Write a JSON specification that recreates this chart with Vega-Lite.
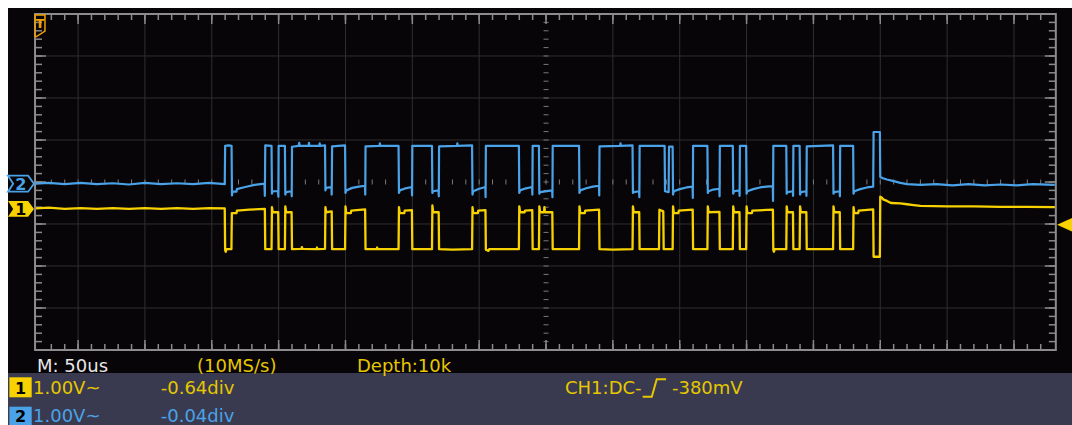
{
 "$schema": "https://vega.github.io/schema/vega-lite/v6.json",
 "width": 1072, "height": 425, "padding": 0, "autosize": {"type": "none"},
 "background": "#ffffff",
 "config": {"view": {"stroke": null}, "text": {"font": "DejaVu Sans"}},
 "datasets": {
  "ch2": [
   {"t":-381.5,"v":-0.04},{"t":-372,"v":-0.02},{"t":-360,"v":-0.05},{"t":-348,"v":-0.02},{"t":-336,"v":-0.05},{"t":-324,"v":-0.03},{"t":-312,"v":-0.06},{"t":-300,"v":-0.02},{"t":-288,"v":-0.05},{"t":-276,"v":-0.03},{"t":-264,"v":-0.05},{"t":-252,"v":-0.02},{"t":-240.3,"v":-0.05},
   {"t":-240,"v":0.86},{"t":-237.5,"v":0.87},{"t":-235.2,"v":0.86},{"t":-234.9,"v":-0.32},{"t":-234.5,"v":-0.23},{"t":-231.5,"v":-0.23},{"t":-231.2,"v":-0.17},{"t":-225,"v":-0.12},{"t":-218,"v":-0.07},{"t":-210.6,"v":-0.04},
   {"t":-210.3,"v":-0.33},{"t":-210,"v":0.87},{"t":-205.3,"v":0.86},{"t":-205,"v":-0.28},{"t":-204.5,"v":-0.22},{"t":-200.4,"v":-0.22},
   {"t":-200.2,"v":-0.35},{"t":-200,"v":0.86},{"t":-195.3,"v":0.86},{"t":-195,"v":-0.3},{"t":-194.5,"v":-0.24},{"t":-190.4,"v":-0.22},
   {"t":-190.2,"v":-0.34},{"t":-190,"v":0.84},{"t":-185,"v":0.86},{"t":-184.6,"v":0.93},{"t":-184.2,"v":0.86},{"t":-177.6,"v":0.86},{"t":-177.3,"v":0.93},{"t":-177,"v":0.86},{"t":-169.6,"v":0.86},{"t":-169.3,"v":0.92},{"t":-169,"v":0.86},{"t":-165.3,"v":0.87},{"t":-165,"v":-0.2},{"t":-164.5,"v":-0.14},{"t":-160.5,"v":-0.12},
   {"t":-160.3,"v":-0.3},{"t":-160,"v":0.85},{"t":-150.3,"v":0.87},{"t":-150,"v":-0.26},{"t":-149.4,"v":-0.2},{"t":-145,"v":-0.14},{"t":-140,"v":-0.11},{"t":-135.4,"v":-0.09},
   {"t":-135.2,"v":-0.3},{"t":-135,"v":0.85},{"t":-124.6,"v":0.86},{"t":-124.3,"v":0.92},{"t":-124,"v":0.86},{"t":-110.3,"v":0.86},{"t":-110,"v":-0.26},{"t":-109.4,"v":-0.2},{"t":-105,"v":-0.15},{"t":-100.4,"v":-0.12},
   {"t":-100.2,"v":-0.32},{"t":-100,"v":0.86},{"t":-85.3,"v":0.86},{"t":-85,"v":-0.26},{"t":-84.4,"v":-0.22},{"t":-80.4,"v":-0.2},
   {"t":-80.2,"v":-0.34},{"t":-80,"v":0.85},{"t":-66.6,"v":0.86},{"t":-66.3,"v":0.92},{"t":-66,"v":0.86},{"t":-55.3,"v":0.87},{"t":-55,"v":-0.3},{"t":-54.4,"v":-0.22},{"t":-50,"v":-0.16},{"t":-45.4,"v":-0.12},
   {"t":-45.2,"v":-0.36},{"t":-45,"v":0.86},{"t":-20.3,"v":0.86},{"t":-20,"v":-0.26},{"t":-19.4,"v":-0.2},{"t":-15,"v":-0.15},{"t":-10.4,"v":-0.12},
   {"t":-10.2,"v":-0.3},{"t":-10,"v":0.86},{"t":-5.3,"v":0.86},{"t":-5,"v":-0.28},{"t":-4.4,"v":-0.24},{"t":4.6,"v":-0.2},
   {"t":4.8,"v":-0.36},{"t":5,"v":0.86},{"t":24.7,"v":0.86},{"t":25,"v":-0.26},{"t":25.6,"v":-0.2},{"t":30,"v":-0.15},{"t":35,"v":-0.11},{"t":39.6,"v":-0.09},
   {"t":39.8,"v":-0.32},{"t":40,"v":0.85},{"t":55.4,"v":0.86},{"t":55.7,"v":0.92},{"t":56,"v":0.86},{"t":64.7,"v":0.87},{"t":65,"v":-0.26},{"t":65.6,"v":-0.24},{"t":69.6,"v":-0.22},
   {"t":69.8,"v":-0.36},{"t":70,"v":0.86},{"t":88.7,"v":0.86},{"t":89,"v":-0.22},{"t":91.7,"v":-0.24},{"t":92,"v":0.84},{"t":94.7,"v":0.84},{"t":95,"v":-0.3},{"t":95.6,"v":-0.22},{"t":100,"v":-0.17},{"t":105,"v":-0.13},{"t":109.6,"v":-0.11},
   {"t":109.8,"v":-0.38},{"t":110,"v":0.86},{"t":120.7,"v":0.86},{"t":121,"v":-0.26},{"t":121.6,"v":-0.22},{"t":125,"v":-0.18},{"t":129.6,"v":-0.16},
   {"t":129.8,"v":-0.34},{"t":130,"v":0.86},{"t":139.7,"v":0.86},{"t":140,"v":-0.28},{"t":140.6,"v":-0.22},{"t":144.6,"v":-0.2},
   {"t":144.8,"v":-0.33},{"t":145,"v":0.86},{"t":149.7,"v":0.86},{"t":150,"v":-0.28},{"t":150.6,"v":-0.22},{"t":155,"v":-0.17},{"t":160,"v":-0.13},{"t":165,"v":-0.11},{"t":169.6,"v":-0.1},
   {"t":169.8,"v":-0.45},{"t":170,"v":0.86},{"t":179.7,"v":0.86},{"t":180,"v":-0.28},{"t":180.6,"v":-0.24},{"t":184.6,"v":-0.22},
   {"t":184.8,"v":-0.33},{"t":185,"v":0.86},{"t":189.7,"v":0.86},{"t":190,"v":-0.3},{"t":190.6,"v":-0.24},{"t":194.6,"v":-0.22},
   {"t":194.8,"v":-0.33},{"t":195,"v":0.85},{"t":214.7,"v":0.87},{"t":215,"v":-0.28},{"t":215.6,"v":-0.24},{"t":219.6,"v":-0.22},
   {"t":219.8,"v":-0.34},{"t":220,"v":0.86},{"t":229.7,"v":0.86},{"t":230,"v":-0.28},{"t":230.6,"v":-0.22},{"t":235,"v":-0.17},{"t":240,"v":-0.13},{"t":244.7,"v":-0.11},
   {"t":245,"v":1.19},{"t":249.7,"v":1.19},{"t":250,"v":0.12},{"t":252,"v":0.09},{"t":255,"v":0.06},{"t":260,"v":0.02},{"t":265,"v":-0.02},{"t":270,"v":-0.05},{"t":280,"v":-0.07},{"t":292,"v":-0.05},{"t":304,"v":-0.08},{"t":316,"v":-0.05},{"t":328,"v":-0.08},{"t":340,"v":-0.06},{"t":352,"v":-0.08},{"t":364,"v":-0.05},{"t":380.5,"v":-0.07}
  ],
  "ch1": [
   {"t":-381.5,"v":-0.63},{"t":-372,"v":-0.61},{"t":-360,"v":-0.64},{"t":-348,"v":-0.62},{"t":-336,"v":-0.64},{"t":-324,"v":-0.62},{"t":-312,"v":-0.64},{"t":-300,"v":-0.62},{"t":-288,"v":-0.64},{"t":-276,"v":-0.62},{"t":-264,"v":-0.64},{"t":-252,"v":-0.62},{"t":-240.3,"v":-0.63},
   {"t":-240,"v":-1.62},{"t":-239.5,"v":-1.66},{"t":-239,"v":-1.6},{"t":-235.3,"v":-1.6},{"t":-235,"v":-0.74},{"t":-231.5,"v":-0.74},{"t":-231.2,"v":-0.68},{"t":-222,"v":-0.66},{"t":-210.3,"v":-0.64},
   {"t":-210,"v":-1.6},{"t":-205.3,"v":-1.6},{"t":-205,"v":-0.6},{"t":-204.4,"v":-0.72},{"t":-200.3,"v":-0.72},
   {"t":-200,"v":-1.6},{"t":-195.3,"v":-1.6},{"t":-195,"v":-0.58},{"t":-194.4,"v":-0.72},{"t":-190.3,"v":-0.72},
   {"t":-190,"v":-1.6},{"t":-183,"v":-1.59},{"t":-182.6,"v":-1.55},{"t":-182.2,"v":-1.59},{"t":-171.6,"v":-1.6},{"t":-171.3,"v":-1.56},{"t":-171,"v":-1.6},{"t":-165.3,"v":-1.59},{"t":-165,"v":-0.6},{"t":-164.4,"v":-0.72},{"t":-160.3,"v":-0.7},
   {"t":-160,"v":-1.6},{"t":-150.3,"v":-1.6},{"t":-150,"v":-0.58},{"t":-149.4,"v":-0.74},{"t":-146,"v":-0.74},{"t":-145.7,"v":-0.68},{"t":-135.3,"v":-0.65},
   {"t":-135,"v":-1.6},{"t":-126.6,"v":-1.6},{"t":-126.3,"v":-1.56},{"t":-126,"v":-1.6},{"t":-110.3,"v":-1.6},{"t":-110,"v":-0.6},{"t":-109.4,"v":-0.74},{"t":-106,"v":-0.74},{"t":-105.7,"v":-0.68},{"t":-100.3,"v":-0.67},
   {"t":-100,"v":-1.6},{"t":-85.3,"v":-1.6},{"t":-85,"v":-0.56},{"t":-84.4,"v":-0.72},{"t":-80.3,"v":-0.72},
   {"t":-80,"v":-1.6},{"t":-70,"v":-1.61},{"t":-55.3,"v":-1.6},{"t":-55,"v":-0.6},{"t":-54.4,"v":-0.74},{"t":-51,"v":-0.74},{"t":-50.7,"v":-0.68},{"t":-45.3,"v":-0.67},
   {"t":-45,"v":-1.61},{"t":-43,"v":-1.64},{"t":-42.5,"v":-1.6},{"t":-20.3,"v":-1.6},{"t":-20,"v":-0.58},{"t":-19.4,"v":-0.72},{"t":-16,"v":-0.72},{"t":-15.7,"v":-0.68},{"t":-10.3,"v":-0.67},
   {"t":-10,"v":-1.6},{"t":-5.3,"v":-1.6},{"t":-5,"v":-0.58},{"t":-4.4,"v":-0.72},{"t":-1.5,"v":-0.72},{"t":-1.2,"v":-0.6},{"t":-0.8,"v":-0.72},{"t":4.7,"v":-0.72},
   {"t":5,"v":-1.6},{"t":24.7,"v":-1.6},{"t":25,"v":-0.58},{"t":25.6,"v":-0.74},{"t":29,"v":-0.74},{"t":29.3,"v":-0.68},{"t":39.7,"v":-0.66},
   {"t":40,"v":-1.6},{"t":50,"v":-1.61},{"t":64.7,"v":-1.6},{"t":65,"v":-0.58},{"t":65.6,"v":-0.72},{"t":69.7,"v":-0.72},
   {"t":70,"v":-1.6},{"t":84.5,"v":-1.6},{"t":84.8,"v":-0.66},{"t":87.7,"v":-0.7},{"t":88,"v":-1.6},{"t":94.7,"v":-1.6},{"t":95,"v":-0.58},{"t":95.6,"v":-0.74},{"t":99,"v":-0.74},{"t":99.3,"v":-0.68},{"t":109.7,"v":-0.66},
   {"t":110,"v":-1.6},{"t":120.7,"v":-1.6},{"t":121,"v":-0.58},{"t":121.6,"v":-0.72},{"t":129.7,"v":-0.71},
   {"t":130,"v":-1.6},{"t":139.7,"v":-1.6},{"t":140,"v":-0.58},{"t":140.6,"v":-0.72},{"t":144.7,"v":-0.72},
   {"t":145,"v":-1.6},{"t":149.7,"v":-1.6},{"t":150,"v":-0.58},{"t":150.6,"v":-0.74},{"t":154,"v":-0.74},{"t":154.3,"v":-0.68},{"t":169.7,"v":-0.66},
   {"t":170,"v":-1.62},{"t":170.5,"v":-1.66},{"t":171,"v":-1.6},{"t":179.7,"v":-1.6},{"t":180,"v":-0.58},{"t":180.6,"v":-0.72},{"t":184.7,"v":-0.72},
   {"t":185,"v":-1.6},{"t":189.7,"v":-1.6},{"t":190,"v":-0.58},{"t":190.6,"v":-0.72},{"t":194.7,"v":-0.72},
   {"t":195,"v":-1.6},{"t":214.7,"v":-1.6},{"t":215,"v":-0.58},{"t":215.6,"v":-0.72},{"t":219.7,"v":-0.72},
   {"t":220,"v":-1.6},{"t":229.7,"v":-1.6},{"t":230,"v":-0.6},{"t":230.6,"v":-0.74},{"t":233.5,"v":-0.74},{"t":233.8,"v":-0.68},{"t":244.7,"v":-0.65},
   {"t":245,"v":-1.78},{"t":249.7,"v":-1.78},{"t":250,"v":-0.35},{"t":251,"v":-0.37},{"t":252.5,"v":-0.42},{"t":255,"v":-0.45},{"t":258,"v":-0.5},{"t":265,"v":-0.51},{"t":270,"v":-0.53},{"t":275,"v":-0.55},{"t":280,"v":-0.57},{"t":300,"v":-0.58},{"t":320,"v":-0.58},{"t":340,"v":-0.59},{"t":360,"v":-0.59},{"t":380.5,"v":-0.6}
  ],
  "tminor": [{"t":-370},{"t":-360},{"t":-350},{"t":-340},{"t":-330},{"t":-320},{"t":-310},{"t":-300},{"t":-290},{"t":-280},{"t":-270},{"t":-260},{"t":-250},{"t":-240},{"t":-230},{"t":-220},{"t":-210},{"t":-200},{"t":-190},{"t":-180},{"t":-170},{"t":-160},{"t":-150},{"t":-140},{"t":-130},{"t":-120},{"t":-110},{"t":-100},{"t":-90},{"t":-80},{"t":-70},{"t":-60},{"t":-50},{"t":-40},{"t":-30},{"t":-20},{"t":-10},{"t":0},{"t":10},{"t":20},{"t":30},{"t":40},{"t":50},{"t":60},{"t":70},{"t":80},{"t":90},{"t":100},{"t":110},{"t":120},{"t":130},{"t":140},{"t":150},{"t":160},{"t":170},{"t":180},{"t":190},{"t":200},{"t":210},{"t":220},{"t":230},{"t":240},{"t":250},{"t":260},{"t":270},{"t":280},{"t":290},{"t":300},{"t":310},{"t":320},{"t":330},{"t":340},{"t":350},{"t":360},{"t":370}],
  "tmajor": [{"t":-350},{"t":-300},{"t":-250},{"t":-200},{"t":-150},{"t":-100},{"t":-50},{"t":0},{"t":50},{"t":100},{"t":150},{"t":200},{"t":250},{"t":300},{"t":350}],
  "vminor": [{"v":-3.8},{"v":-3.6},{"v":-3.4},{"v":-3.2},{"v":-3},{"v":-2.8},{"v":-2.6},{"v":-2.4},{"v":-2.2},{"v":-2},{"v":-1.8},{"v":-1.6},{"v":-1.4},{"v":-1.2},{"v":-1},{"v":-0.8},{"v":-0.6},{"v":-0.4},{"v":-0.2},{"v":0},{"v":0.2},{"v":0.4},{"v":0.6},{"v":0.8},{"v":1},{"v":1.2},{"v":1.4},{"v":1.6},{"v":1.8},{"v":2},{"v":2.2},{"v":2.4},{"v":2.6},{"v":2.8},{"v":3},{"v":3.2},{"v":3.4},{"v":3.6},{"v":3.8}],
  "vmajor": [{"v":-3},{"v":-2},{"v":-1},{"v":0},{"v":1},{"v":2},{"v":3}],
  "edge": [{"t":72.3,"v":-5.112},{"t":79.1,"v":-5.112},{"t":82.8,"v":-4.698},{"t":89.8,"v":-4.698}]
 },
 "layer": [
  {"data":{"values":[{}]},"mark":{"type":"rect","color":"#080508"},"encoding":{"x":{"datum":-402.4,"type":"quantitative","scale":{"domain":[-408.4,393.4],"nice":false,"zero":false},"axis":null},"x2":{"datum":393.4},"y":{"datum":4.143,"type":"quantitative","scale":{"domain":[-5.7857,4.3333],"nice":false,"zero":false},"axis":null},"y2":{"datum":-4.548}}},
  {"data":{"values":[{}]},"mark":{"type":"rect","color":"#393a4f"},"encoding":{"x":{"datum":-402.4,"type":"quantitative","scale":{"domain":[-408.4,393.4],"nice":false,"zero":false},"axis":null},"x2":{"datum":393.4},"y":{"datum":-4.548,"type":"quantitative","scale":{"domain":[-5.7857,4.3333],"nice":false,"zero":false},"axis":null},"y2":{"datum":-5.7857}}},
  {"data":{"name":"tmajor"},"transform":[{"filter":"datum.t != 0"}],"mark":{"type":"rule","color":"#2f2f2f","strokeWidth":1},"encoding":{"x":{"field":"t","type":"quantitative","scale":{"domain":[-408.4,393.4],"nice":false,"zero":false},"axis":null},"y":{"datum":-4,"type":"quantitative","scale":{"domain":[-5.7857,4.3333],"nice":false,"zero":false},"axis":null},"y2":{"datum":4}}},
  {"data":{"name":"vmajor"},"transform":[{"filter":"datum.v != 0"}],"mark":{"type":"rule","color":"#2f2f2f","strokeWidth":1},"encoding":{"y":{"field":"v","type":"quantitative","scale":{"domain":[-5.7857,4.3333],"nice":false,"zero":false},"axis":null},"x":{"datum":-382.2,"type":"quantitative","scale":{"domain":[-408.4,393.4],"nice":false,"zero":false},"axis":null},"x2":{"datum":381.3}}},
  {"data":{"name":"tminor"},"mark":{"type":"rule","color":"#7a7a7a","strokeWidth":1,"yOffset":-2.5,"y2Offset":2.5},"encoding":{"x":{"field":"t","type":"quantitative","scale":{"domain":[-408.4,393.4],"nice":false,"zero":false},"axis":null},"y":{"datum":0,"type":"quantitative","scale":{"domain":[-5.7857,4.3333],"nice":false,"zero":false},"axis":null},"y2":{"datum":0}}},
  {"data":{"name":"vminor"},"mark":{"type":"rule","color":"#7a7a7a","strokeWidth":1,"xOffset":-2.5,"x2Offset":2.5},"encoding":{"y":{"field":"v","type":"quantitative","scale":{"domain":[-5.7857,4.3333],"nice":false,"zero":false},"axis":null},"x":{"datum":0,"type":"quantitative","scale":{"domain":[-408.4,393.4],"nice":false,"zero":false},"axis":null},"x2":{"datum":0}}},
  {"data":{"name":"tminor"},"mark":{"type":"rule","color":"#8a8a8a","strokeWidth":1.5,"y2Offset":6},"encoding":{"x":{"field":"t","type":"quantitative","scale":{"domain":[-408.4,393.4],"nice":false,"zero":false},"axis":null},"y":{"datum":4,"type":"quantitative","scale":{"domain":[-5.7857,4.3333],"nice":false,"zero":false},"axis":null},"y2":{"datum":4}}},
  {"data":{"name":"tmajor"},"mark":{"type":"rule","color":"#8a8a8a","strokeWidth":1.5,"y2Offset":10},"encoding":{"x":{"field":"t","type":"quantitative","scale":{"domain":[-408.4,393.4],"nice":false,"zero":false},"axis":null},"y":{"datum":4,"type":"quantitative","scale":{"domain":[-5.7857,4.3333],"nice":false,"zero":false},"axis":null},"y2":{"datum":4}}},
  {"data":{"name":"tminor"},"mark":{"type":"rule","color":"#8a8a8a","strokeWidth":1.5,"y2Offset":-6},"encoding":{"x":{"field":"t","type":"quantitative","scale":{"domain":[-408.4,393.4],"nice":false,"zero":false},"axis":null},"y":{"datum":-4,"type":"quantitative","scale":{"domain":[-5.7857,4.3333],"nice":false,"zero":false},"axis":null},"y2":{"datum":-4}}},
  {"data":{"name":"tmajor"},"mark":{"type":"rule","color":"#8a8a8a","strokeWidth":1.5,"y2Offset":-10},"encoding":{"x":{"field":"t","type":"quantitative","scale":{"domain":[-408.4,393.4],"nice":false,"zero":false},"axis":null},"y":{"datum":-4,"type":"quantitative","scale":{"domain":[-5.7857,4.3333],"nice":false,"zero":false},"axis":null},"y2":{"datum":-4}}},
  {"data":{"name":"vminor"},"mark":{"type":"rule","color":"#8a8a8a","strokeWidth":1.5,"x2Offset":7},"encoding":{"y":{"field":"v","type":"quantitative","scale":{"domain":[-5.7857,4.3333],"nice":false,"zero":false},"axis":null},"x":{"datum":-382.2,"type":"quantitative","scale":{"domain":[-408.4,393.4],"nice":false,"zero":false},"axis":null},"x2":{"datum":-382.2}}},
  {"data":{"name":"vmajor"},"mark":{"type":"rule","color":"#8a8a8a","strokeWidth":1.5,"x2Offset":11},"encoding":{"y":{"field":"v","type":"quantitative","scale":{"domain":[-5.7857,4.3333],"nice":false,"zero":false},"axis":null},"x":{"datum":-382.2,"type":"quantitative","scale":{"domain":[-408.4,393.4],"nice":false,"zero":false},"axis":null},"x2":{"datum":-382.2}}},
  {"data":{"name":"vminor"},"mark":{"type":"rule","color":"#8a8a8a","strokeWidth":1.5,"x2Offset":-7},"encoding":{"y":{"field":"v","type":"quantitative","scale":{"domain":[-5.7857,4.3333],"nice":false,"zero":false},"axis":null},"x":{"datum":381.3,"type":"quantitative","scale":{"domain":[-408.4,393.4],"nice":false,"zero":false},"axis":null},"x2":{"datum":381.3}}},
  {"data":{"name":"vmajor"},"mark":{"type":"rule","color":"#8a8a8a","strokeWidth":1.5,"x2Offset":-11},"encoding":{"y":{"field":"v","type":"quantitative","scale":{"domain":[-5.7857,4.3333],"nice":false,"zero":false},"axis":null},"x":{"datum":381.3,"type":"quantitative","scale":{"domain":[-408.4,393.4],"nice":false,"zero":false},"axis":null},"x2":{"datum":381.3}}},
  {"data":{"values":[{}]},"mark":{"type":"rect","fill":"transparent","stroke":"#8c8c8c","strokeWidth":2},"encoding":{"x":{"datum":-382.2,"type":"quantitative","scale":{"domain":[-408.4,393.4],"nice":false,"zero":false},"axis":null},"x2":{"datum":381.3},"y":{"datum":-4,"type":"quantitative","scale":{"domain":[-5.7857,4.3333],"nice":false,"zero":false},"axis":null},"y2":{"datum":4}}},
  {"data":{"name":"ch2"},"mark":{"type":"line","color":"#4aa3e8","strokeWidth":2.2,"strokeJoin":"round"},"encoding":{"x":{"field":"t","type":"quantitative","scale":{"domain":[-408.4,393.4],"nice":false,"zero":false},"axis":null},"y":{"field":"v","type":"quantitative","scale":{"domain":[-5.7857,4.3333],"nice":false,"zero":false},"axis":null}}},
  {"data":{"name":"ch1"},"mark":{"type":"line","color":"#f7d200","strokeWidth":2.3,"strokeJoin":"round"},"encoding":{"x":{"field":"t","type":"quantitative","scale":{"domain":[-408.4,393.4],"nice":false,"zero":false},"axis":null},"y":{"field":"v","type":"quantitative","scale":{"domain":[-5.7857,4.3333],"nice":false,"zero":false},"axis":null}}},
  {"data":{"values":[{}]},"mark":{"type":"point","shape":"M -1 -0.615 L 0.55 -0.615 L 1 0 L 0.55 0.615 L -1 0.615 L -0.6 0 Z","size":676,"filled":false,"stroke":"#4aa3e8","strokeWidth":1.8,"opacity":1},"encoding":{"x":{"datum":-392.7,"type":"quantitative","scale":{"domain":[-408.4,393.4],"nice":false,"zero":false},"axis":null},"y":{"datum":-0.04,"type":"quantitative","scale":{"domain":[-5.7857,4.3333],"nice":false,"zero":false},"axis":null}}},
  {"data":{"values":[{}]},"mark":{"type":"text","text":"2","fontSize":16,"fontWeight":"bold","color":"#4aa3e8","align":"center","baseline":"middle","dy":1},"encoding":{"x":{"datum":-392.9,"type":"quantitative","scale":{"domain":[-408.4,393.4],"nice":false,"zero":false},"axis":null},"y":{"datum":-0.04,"type":"quantitative","scale":{"domain":[-5.7857,4.3333],"nice":false,"zero":false},"axis":null}}},
  {"data":{"values":[{}]},"mark":{"type":"point","shape":"M -1 -0.615 L 0.55 -0.615 L 1 0 L 0.55 0.615 L -1 0.615 L -0.6 0 Z","size":676,"filled":true,"fill":"#f7d200","opacity":1},"encoding":{"x":{"datum":-392.7,"type":"quantitative","scale":{"domain":[-408.4,393.4],"nice":false,"zero":false},"axis":null},"y":{"datum":-0.64,"type":"quantitative","scale":{"domain":[-5.7857,4.3333],"nice":false,"zero":false},"axis":null}}},
  {"data":{"values":[{}]},"mark":{"type":"text","text":"1","fontSize":16,"fontWeight":"bold","color":"#000000","align":"center","baseline":"middle","dy":1},"encoding":{"x":{"datum":-392.9,"type":"quantitative","scale":{"domain":[-408.4,393.4],"nice":false,"zero":false},"axis":null},"y":{"datum":-0.64,"type":"quantitative","scale":{"domain":[-5.7857,4.3333],"nice":false,"zero":false},"axis":null}}},
  {"data":{"values":[{}]},"mark":{"type":"point","shape":"M -1 -2.1 L 1 -2.1 L 1 1.1 L -0.7 2.2 L -1 2.2 Z","size":100,"filled":false,"stroke":"#f0a000","strokeWidth":1.5,"opacity":1},"encoding":{"x":{"datum":-378.5,"type":"quantitative","scale":{"domain":[-408.4,393.4],"nice":false,"zero":false},"axis":null},"y":{"datum":3.726,"type":"quantitative","scale":{"domain":[-5.7857,4.3333],"nice":false,"zero":false},"axis":null}}},
  {"data":{"values":[{}]},"mark":{"type":"text","text":"T","fontSize":13,"fontWeight":"bold","color":"#f0a000","align":"center","baseline":"middle"},"encoding":{"x":{"datum":-378.5,"type":"quantitative","scale":{"domain":[-408.4,393.4],"nice":false,"zero":false},"axis":null},"y":{"datum":3.77,"type":"quantitative","scale":{"domain":[-5.7857,4.3333],"nice":false,"zero":false},"axis":null}}},
  {"data":{"values":[{}]},"mark":{"type":"point","shape":"M -1 0 L 1 -0.9 L 1 0.9 Z","size":256,"filled":true,"fill":"#f7d200","opacity":1},"encoding":{"x":{"datum":388.2,"type":"quantitative","scale":{"domain":[-408.4,393.4],"nice":false,"zero":false},"axis":null},"y":{"datum":-1.02,"type":"quantitative","scale":{"domain":[-5.7857,4.3333],"nice":false,"zero":false},"axis":null}}},
  {"data":{"values":[{}]},"mark":{"type":"text","text":"M: 50us","fontSize":18,"color":"#e6e6e6","align":"left","baseline":"alphabetic"},"encoding":{"x":{"datum":-380.7,"type":"quantitative","scale":{"domain":[-408.4,393.4],"nice":false,"zero":false},"axis":null},"y":{"datum":-4.517,"type":"quantitative","scale":{"domain":[-5.7857,4.3333],"nice":false,"zero":false},"axis":null}}},
  {"data":{"values":[{}]},"mark":{"type":"text","text":"(10MS/s)","fontSize":18,"color":"#e6c700","align":"left","baseline":"alphabetic"},"encoding":{"x":{"datum":-261.0,"type":"quantitative","scale":{"domain":[-408.4,393.4],"nice":false,"zero":false},"axis":null},"y":{"datum":-4.517,"type":"quantitative","scale":{"domain":[-5.7857,4.3333],"nice":false,"zero":false},"axis":null}}},
  {"data":{"values":[{}]},"mark":{"type":"text","text":"Depth:10k","fontSize":18,"color":"#e6c700","align":"left","baseline":"alphabetic"},"encoding":{"x":{"datum":-141.4,"type":"quantitative","scale":{"domain":[-408.4,393.4],"nice":false,"zero":false},"axis":null},"y":{"datum":-4.517,"type":"quantitative","scale":{"domain":[-5.7857,4.3333],"nice":false,"zero":false},"axis":null}}},
  {"data":{"values":[{}]},"mark":{"type":"rect","color":"#f7d200"},"encoding":{"x":{"datum":-401.4,"type":"quantitative","scale":{"domain":[-408.4,393.4],"nice":false,"zero":false},"axis":null},"x2":{"datum":-384.7},"y":{"datum":-4.65,"type":"quantitative","scale":{"domain":[-5.7857,4.3333],"nice":false,"zero":false},"axis":null},"y2":{"datum":-5.126}}},
  {"data":{"values":[{}]},"mark":{"type":"rect","color":"#4aa3e8"},"encoding":{"x":{"datum":-401.4,"type":"quantitative","scale":{"domain":[-408.4,393.4],"nice":false,"zero":false},"axis":null},"x2":{"datum":-384.7},"y":{"datum":-5.35,"type":"quantitative","scale":{"domain":[-5.7857,4.3333],"nice":false,"zero":false},"axis":null},"y2":{"datum":-5.7857}}},
  {"data":{"values":[{}]},"mark":{"type":"text","text":"1","fontSize":16,"fontWeight":"bold","color":"#000000","align":"center","baseline":"alphabetic"},"encoding":{"x":{"datum":-393.0,"type":"quantitative","scale":{"domain":[-408.4,393.4],"nice":false,"zero":false},"axis":null},"y":{"datum":-5.048,"type":"quantitative","scale":{"domain":[-5.7857,4.3333],"nice":false,"zero":false},"axis":null}}},
  {"data":{"values":[{}]},"mark":{"type":"text","text":"2","fontSize":16,"fontWeight":"bold","color":"#000000","align":"center","baseline":"alphabetic"},"encoding":{"x":{"datum":-393.0,"type":"quantitative","scale":{"domain":[-408.4,393.4],"nice":false,"zero":false},"axis":null},"y":{"datum":-5.707,"type":"quantitative","scale":{"domain":[-5.7857,4.3333],"nice":false,"zero":false},"axis":null}}},
  {"data":{"values":[{}]},"mark":{"type":"text","text":"1.00V~","fontSize":18,"color":"#e6c700","align":"left","baseline":"alphabetic"},"encoding":{"x":{"datum":-383.7,"type":"quantitative","scale":{"domain":[-408.4,393.4],"nice":false,"zero":false},"axis":null},"y":{"datum":-5.055,"type":"quantitative","scale":{"domain":[-5.7857,4.3333],"nice":false,"zero":false},"axis":null}}},
  {"data":{"values":[{}]},"mark":{"type":"text","text":"-0.64div","fontSize":18,"color":"#e6c700","align":"left","baseline":"alphabetic"},"encoding":{"x":{"datum":-288.2,"type":"quantitative","scale":{"domain":[-408.4,393.4],"nice":false,"zero":false},"axis":null},"y":{"datum":-5.055,"type":"quantitative","scale":{"domain":[-5.7857,4.3333],"nice":false,"zero":false},"axis":null}}},
  {"data":{"values":[{}]},"mark":{"type":"text","text":"CH1:DC-","fontSize":18,"color":"#e6c700","align":"left","baseline":"alphabetic"},"encoding":{"x":{"datum":14.2,"type":"quantitative","scale":{"domain":[-408.4,393.4],"nice":false,"zero":false},"axis":null},"y":{"datum":-5.055,"type":"quantitative","scale":{"domain":[-5.7857,4.3333],"nice":false,"zero":false},"axis":null}}},
  {"data":{"name":"edge"},"mark":{"type":"line","color":"#e6c700","strokeWidth":2},"encoding":{"x":{"field":"t","type":"quantitative","scale":{"domain":[-408.4,393.4],"nice":false,"zero":false},"axis":null},"y":{"field":"v","type":"quantitative","scale":{"domain":[-5.7857,4.3333],"nice":false,"zero":false},"axis":null}}},
  {"data":{"values":[{}]},"mark":{"type":"text","text":"-380mV","fontSize":18,"color":"#e6c700","align":"left","baseline":"alphabetic"},"encoding":{"x":{"datum":94.2,"type":"quantitative","scale":{"domain":[-408.4,393.4],"nice":false,"zero":false},"axis":null},"y":{"datum":-5.055,"type":"quantitative","scale":{"domain":[-5.7857,4.3333],"nice":false,"zero":false},"axis":null}}},
  {"data":{"values":[{}]},"mark":{"type":"text","text":"1.00V~","fontSize":18,"color":"#4aa3e8","align":"left","baseline":"alphabetic"},"encoding":{"x":{"datum":-383.7,"type":"quantitative","scale":{"domain":[-408.4,393.4],"nice":false,"zero":false},"axis":null},"y":{"datum":-5.707,"type":"quantitative","scale":{"domain":[-5.7857,4.3333],"nice":false,"zero":false},"axis":null}}},
  {"data":{"values":[{}]},"mark":{"type":"text","text":"-0.04div","fontSize":18,"color":"#4aa3e8","align":"left","baseline":"alphabetic"},"encoding":{"x":{"datum":-288.2,"type":"quantitative","scale":{"domain":[-408.4,393.4],"nice":false,"zero":false},"axis":null},"y":{"datum":-5.707,"type":"quantitative","scale":{"domain":[-5.7857,4.3333],"nice":false,"zero":false},"axis":null}}}
 ]
}
